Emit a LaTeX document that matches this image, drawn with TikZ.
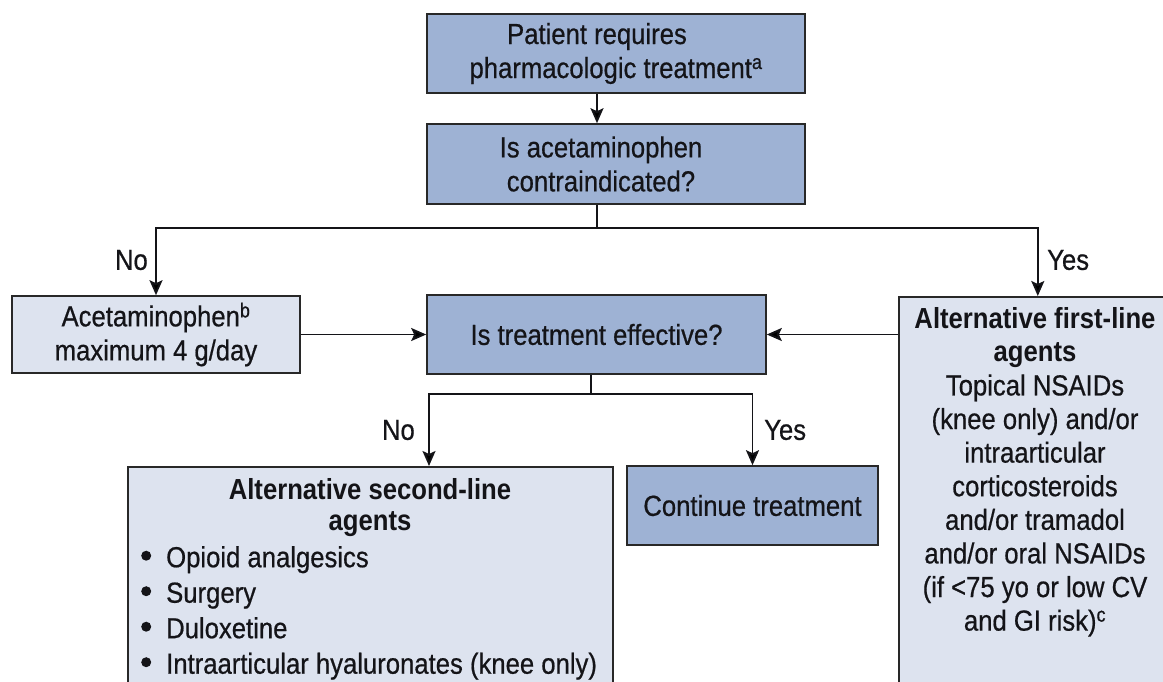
\documentclass[tikz,border=0pt]{standalone}
\usepackage{fontspec}
\setmainfont{Liberation Sans}[FakeStretch=0.885,UprightFeatures={FakeBold=0.6}]
\usetikzlibrary{arrows.meta}
\definecolor{boxdark}{RGB}{158,178,212}
\definecolor{boxlight}{RGB}{221,227,239}
\definecolor{edgegray}{RGB}{40,40,40}
\definecolor{ink}{RGB}{20,20,24}
% round list marker, drawn as a filled dot sitting at x-height
\newcommand{\itemdot}{\makebox[25pt][l]{\tikz[baseline=0pt]\fill[ink] (8pt,11.5pt) circle[radius=5pt];}}
\begin{document}
\begin{tikzpicture}[x=1pt,y=-1pt,
  every node/.style={font=\fontsize{29}{34}\selectfont, text=ink},
  box/.style={draw=edgegray, line width=1.6pt, align=center, inner sep=0pt},
  darkbox/.style={box, fill=boxdark},
  lightbox/.style={box, fill=boxlight},
  link/.style={line width=1.9pt, draw=ink},
  arr/.style={link, -{Stealth[length=15pt,width=13pt,inset=3pt]}},
  lbl/.style={inner sep=0pt}
]
\useasboundingbox (0,0) rectangle (1163,681);
\clip (0,0) rectangle (1163,681);

% decision chain at the top
\node[darkbox, minimum width=378pt, minimum height=79pt] (b1) at (616,53.5)
  {Patient requires\hspace*{38pt}\\pharmacologic treatment\textsuperscript{a}};
\node[darkbox, minimum width=378pt, minimum height=80pt] (b2) at (616,164)
  {Is acetaminophen\hspace*{30pt}\\contraindicated?\hspace*{30pt}};

% first-level outcomes
\node[lightbox, minimum width=288pt, minimum height=77pt] (acet) at (156,334.5)
  {Acetaminophen\textsuperscript{b}\\maximum 4 g/day};
\node[darkbox, minimum width=339pt, minimum height=79pt] (eff) at (596.5,334.5)
  {Is treatment effective?};
\node[lightbox, minimum width=278pt, minimum height=420pt, anchor=north west] (alt1) at (898,296) {};
\node[anchor=north, align=center, inner sep=0pt, font=\fontsize{29}{33.6}\selectfont] (alt1txt) at (1035,307)
  {\textbf{Alternative first-line}\\\textbf{agents}\\Topical NSAIDs\\(knee only) and/or\\intraarticular\\corticosteroids\\and/or tramadol\\and/or oral NSAIDs\\(if <75 yo or low CV\\and GI risk)\textsuperscript{c}};

% second-level outcomes
\node[lightbox, minimum width=485pt, minimum height=300pt, anchor=north west] (alt2) at (127,466) {};
\node[anchor=north, align=center, inner sep=0pt, font=\fontsize{29}{31}\selectfont\bfseries] (alt2title) at (370,478)
  {Alternative second-line\\agents};
\node[anchor=north west, align=left, inner sep=0pt, font=\fontsize{29}{35.5}\selectfont] (alt2list) at (141,546)
  {\itemdot Opioid analgesics\\
   \itemdot Surgery\\
   \itemdot Duloxetine\\
   \itemdot Intraarticular hyaluronates (knee only)};
\node[darkbox, minimum width=251pt, minimum height=79pt] (cont) at (752.5,505.5)
  {Continue treatment};

% connectors
\coordinate (spine) at (597,0);
\coordinate (split) at (597,228);
\coordinate (split2) at (591,394);
\coordinate (noX) at (429,0);

\draw[arr] (b1.south -| spine) -- (b2.north -| spine);
\draw[link] (b2.south -| spine) -- (split);
\draw[arr] (split) -| (acet.north);
\draw[arr] (split) -| (alt1.north);
\draw[arr] (acet.east) -- (eff.west);
\draw[arr] (alt1.west |- eff.east) -- (eff.east);
\draw[link] (eff.south -| split2) -- (split2);
\draw[arr] (split2) -| (alt2.north -| noX);
\draw[arr] (split2) -| (cont.north);

% branch labels
\node[lbl, anchor=east] (no1) at (148,260) {No};
\node[lbl, anchor=west] (yes1) at (1047,260) {Yes};
\node[lbl, anchor=east] (no2) at (415,430) {No};
\node[lbl, anchor=west] (yes2) at (764,430) {Yes};
\end{tikzpicture}
\end{document}
